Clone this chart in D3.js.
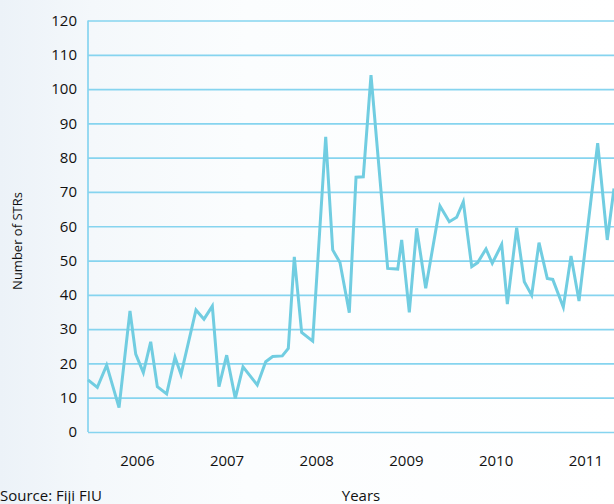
<!DOCTYPE html>
<html>
<head>
<meta charset="utf-8">
<script src="https://cdn.jsdelivr.net/npm/d3@7"></script>
<style>
  body { margin: 0; background: #fff; }
  svg { display: block; }
  text { font-family: "Open Sans", sans-serif; fill: #111; }
</style>
</head>
<body>
<script>
// reading dates (decimal years) and number of STRs
var times = [2006.00, 2006.104, 2006.208, 2006.346, 2006.468, 2006.532, 2006.617, 2006.699, 2006.773, 2006.877,
             2006.970, 2007.037, 2007.204, 2007.293, 2007.386, 2007.460, 2007.546, 2007.642, 2007.728, 2007.887,
             2007.981, 2008.059, 2008.166, 2008.233, 2008.300, 2008.382, 2008.505, 2008.650, 2008.728, 2008.809,
             2008.913, 2008.988, 2009.069, 2009.155, 2009.341, 2009.453, 2009.497, 2009.582, 2009.664, 2009.765,
             2009.924, 2010.028, 2010.110, 2010.184, 2010.278, 2010.344, 2010.437, 2010.507, 2010.612, 2010.675,
             2010.779, 2010.864, 2010.946, 2011.028, 2011.120, 2011.181, 2011.299, 2011.385, 2011.474, 2011.682,
             2011.789, 2011.864];
var strs = [15.2, 13.0, 19.5, 7.1, 35.3, 22.7, 17.3, 26.3, 13.2, 11.1,
            21.8, 16.8, 35.6, 32.9, 36.7, 13.2, 22.4, 9.8, 19.0, 13.7,
            20.5, 22.0, 22.2, 24.4, 51.1, 29.0, 26.5, 86.1, 53.1, 49.4,
            34.8, 74.3, 74.4, 104.1, 47.7, 47.5, 56.0, 34.9, 59.4, 41.9,
            65.9, 61.3, 62.6, 67.1, 48.2, 49.4, 53.4, 49.2, 54.7, 37.3,
            59.6, 43.8, 39.9, 55.2, 44.8, 44.5, 36.4, 51.3, 38.2, 84.2,
            56.0, 71.0];
var years = ["2006", "2007", "2008", "2009", "2010", "2011"];
var yTicks = [0, 10, 20, 30, 40, 50, 60, 70, 80, 90, 100, 110, 120];

var w = 614, h = 504;
var margin = {left: 88, top: 20.5, bottom: 432}; // plot edges in px

var data = times.map(function(t, i) { return {t: t, v: strs[i]}; });

var xScale = d3.scaleLinear()
  .domain([2006, 2012])
  .range([margin.left, margin.left + 6 * 89.7]); // runs past the right edge, like the original

var yScale = d3.scaleLinear()
  .domain([0, 120])
  .range([margin.bottom, margin.top]);

var svg = d3.select("body")
  .append("svg")
  .attr("width", w)
  .attr("height", h);

// faint bluish wash on the left
var grad = svg.append("defs").append("linearGradient")
  .attr("id", "bg")
  .attr("x1", 0).attr("x2", 1).attr("y1", 0).attr("y2", 0);
grad.append("stop").attr("offset", "0%").attr("stop-color", "#ecf2f8");
grad.append("stop").attr("offset", "15%").attr("stop-color", "#f4f8fb");
grad.append("stop").attr("offset", "40%").attr("stop-color", "#fbfdfe");
grad.append("stop").attr("offset", "100%").attr("stop-color", "#ffffff");
svg.append("rect")
  .attr("width", w)
  .attr("height", h)
  .attr("fill", "url(#bg)");

// gridlines + y labels
var yAxis = svg.append("g")
  .attr("class", "y axis")
  .attr("transform", "translate(" + margin.left + ",0)")
  .call(d3.axisLeft(yScale)
    .tickValues(yTicks)
    .tickSize(-(w - margin.left))
    .tickPadding(11)
    .tickFormat(d3.format("d")));
yAxis.select(".domain").remove();
yAxis.selectAll(".tick line")
  .attr("stroke", "#86d4ef")
  .attr("stroke-width", 1.7);
yAxis.selectAll(".tick text")
  .style("font-size", "15px")
  .attr("fill", "#111");

// left axis line
svg.append("line")
  .attr("x1", margin.left).attr("x2", margin.left)
  .attr("y1", yScale(120)).attr("y2", yScale(0))
  .attr("stroke", "#86d4ef")
  .attr("stroke-width", 1.7);

// year labels, a bit past the middle of each year
svg.selectAll(".year")
  .data(years)
  .enter().append("text")
  .attr("class", "year")
  .attr("x", function(d) { return xScale(+d + 0.55); })
  .attr("y", 466)
  .attr("text-anchor", "middle")
  .style("font-size", "15px")
  .text(function(d) { return d; });

var line = d3.line()
  .x(function(d) { return xScale(d.t); })
  .y(function(d) { return yScale(d.v); });

svg.append("path")
  .datum(data)
  .attr("fill", "none")
  .attr("stroke", "#71cde1")
  .attr("stroke-width", 3)
  .attr("stroke-linejoin", "miter")
  .attr("d", line);

// axis labels
svg.append("text")
  .attr("transform", "rotate(-90)")
  .attr("x", -241)
  .attr("y", 22)
  .attr("text-anchor", "middle")
  .style("font-size", "13px")
  .text("Number of STRs");
svg.append("text")
  .attr("x", 361)
  .attr("y", 501)
  .attr("text-anchor", "middle")
  .style("font-size", "15px")
  .text("Years");
svg.append("text")
  .attr("x", 0)
  .attr("y", 501)
  .style("font-size", "15px")
  .text("Source: Fiji FIU");
</script>
</body>
</html>
